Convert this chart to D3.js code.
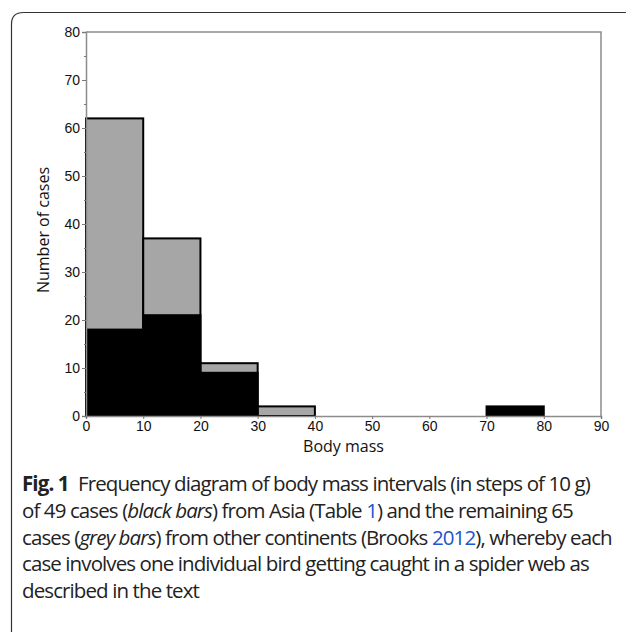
<!DOCTYPE html>
<html>
<head>
<meta charset="utf-8">
<script src="https://cdn.jsdelivr.net/npm/d3@7"></script>
<style>
  body { margin: 0; background: #fff; }
</style>
</head>
<body>
<div id="chart"></div>
<script>
// bins of body mass (g), lower edges
var binStart = [0, 10, 20, 30, 70];
var binWidth = 10;
// black bars: cases from Asia
var asiaCases = [18, 21, 9, 0, 2];
// grey bars: cases from other continents (stacked on top)
var otherCases = [44, 16, 2, 2, 0];

var xTicks = [0, 10, 20, 30, 40, 50, 60, 70, 80, 90];
var yTicks = [0, 10, 20, 30, 40, 50, 60, 70, 80];
var yMinor = [5, 15, 25, 35, 45, 55, 65, 75];

var captionLines = [
  [{t: "Fig. 1", b: true}, {t: "\u2002Frequency diagram of body mass intervals (in steps of 10 g)"}],
  [{t: "of 49 cases ("}, {t: "black bars", i: true}, {t: ") from Asia (Table "}, {t: "1", link: true}, {t: ") and the remaining 65"}],
  [{t: "cases ("}, {t: "grey bars", i: true}, {t: ") from other continents (Brooks "}, {t: "2012", link: true}, {t: "), whereby each"}],
  [{t: "case involves one individual bird getting caught in a spider web as"}],
  [{t: "described in the text"}]
];

var W = 627, H = 632;
var margin = {top: 32, right: 26, bottom: 216, left: 86};
var width = W - margin.left - margin.right,
    height = H - margin.top - margin.bottom;

var svg = d3.select("#chart")
  .append("svg")
    .attr("width", W)
    .attr("height", H);

// figure frame (rounded top-left corner)
svg.append("path")
  .attr("d", "M11.5," + H + " V24 Q11.5,12.5 23.5,12.5 H" + (W - 1))
  .attr("fill", "none")
  .attr("stroke", "#333")
  .attr("stroke-width", 1.2);

var g = svg.append("g")
  .attr("transform", "translate(" + margin.left + "," + margin.top + ")");

var x = d3.scaleLinear().domain([0, 90]).range([0, width]);
var y = d3.scaleLinear().domain([0, 80]).range([height, 0]);

// plot box: top and right border
g.append("path")
  .attr("d", "M0,0 H" + width + " V" + height)
  .attr("fill", "none")
  .attr("stroke", "#8c8c8c")
  .attr("stroke-width", 1.5);

var bins = binStart.map(function(d, i) {
  return {x0: d, x1: d + binWidth, black: asiaCases[i], total: asiaCases[i] + otherCases[i]};
});

// grey (total) bars
g.selectAll(".tot")
  .data(bins.filter(function(d) { return d.total > d.black; }))
  .enter().append("rect")
    .attr("x", function(d) { return x(d.x0); })
    .attr("y", function(d) { return y(d.total); })
    .attr("width", function(d) { return x(d.x1) - x(d.x0); })
    .attr("height", function(d) { return y(0) - y(d.total); })
    .attr("fill", "#a6a6a6")
    .attr("stroke", "#000")
    .attr("stroke-width", 2);

// black bars
g.selectAll(".blk")
  .data(bins.filter(function(d) { return d.black > 0; }))
  .enter().append("rect")
    .attr("x", function(d) { return x(d.x0); })
    .attr("y", function(d) { return y(d.black); })
    .attr("width", function(d) { return x(d.x1) - x(d.x0); })
    .attr("height", function(d) { return y(0) - y(d.black); })
    .attr("fill", "#000")
    .attr("stroke", "#000")
    .attr("stroke-width", 2);

// Y axis with minor ticks
g.append("g")
  .call(d3.axisLeft(y).tickValues(yTicks).tickSize(4).tickPadding(2));
g.append("g")
  .call(d3.axisLeft(y).tickValues(yMinor).tickSize(2).tickFormat(""))
  .select(".domain").remove();

// X axis
g.append("g")
  .attr("transform", "translate(0," + height + ")")
  .call(d3.axisBottom(x).tickValues(xTicks).tickSize(3).tickPadding(2));

g.selectAll(".domain").attr("stroke", "#8c8c8c").attr("stroke-width", 1.5);
g.selectAll(".tick line").attr("stroke", "#777");
g.selectAll(".tick text")
  .attr("fill", "#111")
  .style("font-family", "'Liberation Sans', Arial, sans-serif")
  .style("font-size", "14px");

// axis titles
g.append("text")
  .attr("x", width / 2)
  .attr("y", height + 36)
  .attr("text-anchor", "middle")
  .style("font-family", "'Open Sans', sans-serif")
  .style("font-size", "16px")
  .attr("fill", "#111")
  .text("Body mass");

g.append("text")
  .attr("transform", "translate(" + (43 - margin.left) + "," + (height / 2 + 6) + ") rotate(-90)")
  .attr("text-anchor", "middle")
  .attr("dy", "0.35em")
  .style("font-family", "'Open Sans', sans-serif")
  .style("font-size", "16px")
  .attr("fill", "#111")
  .text("Number of cases");

// caption
var cap = svg.append("g")
  .style("font-family", "'Open Sans', sans-serif")
  .attr("fill", "#222");

var capSize = 20.5;
var texts = captionLines.map(function(line, i) {
  var t = cap.append("text")
    .attr("x", 22)
    .attr("y", 491 + i * 26.8)
    .style("font-size", capSize + "px")
    .attr("xml:space", "preserve");
  line.forEach(function(s) {
    t.append("tspan")
      .text(s.t)
      .style("font-weight", s.b ? "700" : null)
      .style("font-style", s.i ? "italic" : null)
      .attr("fill", s.link ? "#2255cc" : null);
  });
  return t;
});

// tighten letter spacing so the first line spans like the printed caption
var first = texts[0].node();
var nChars = captionLines[0].map(function(s) { return s.t; }).join("").length;
var ls = (568 - first.getComputedTextLength()) / nChars;
cap.selectAll("text").style("letter-spacing", ls + "px");
</script>
</body>
</html>
